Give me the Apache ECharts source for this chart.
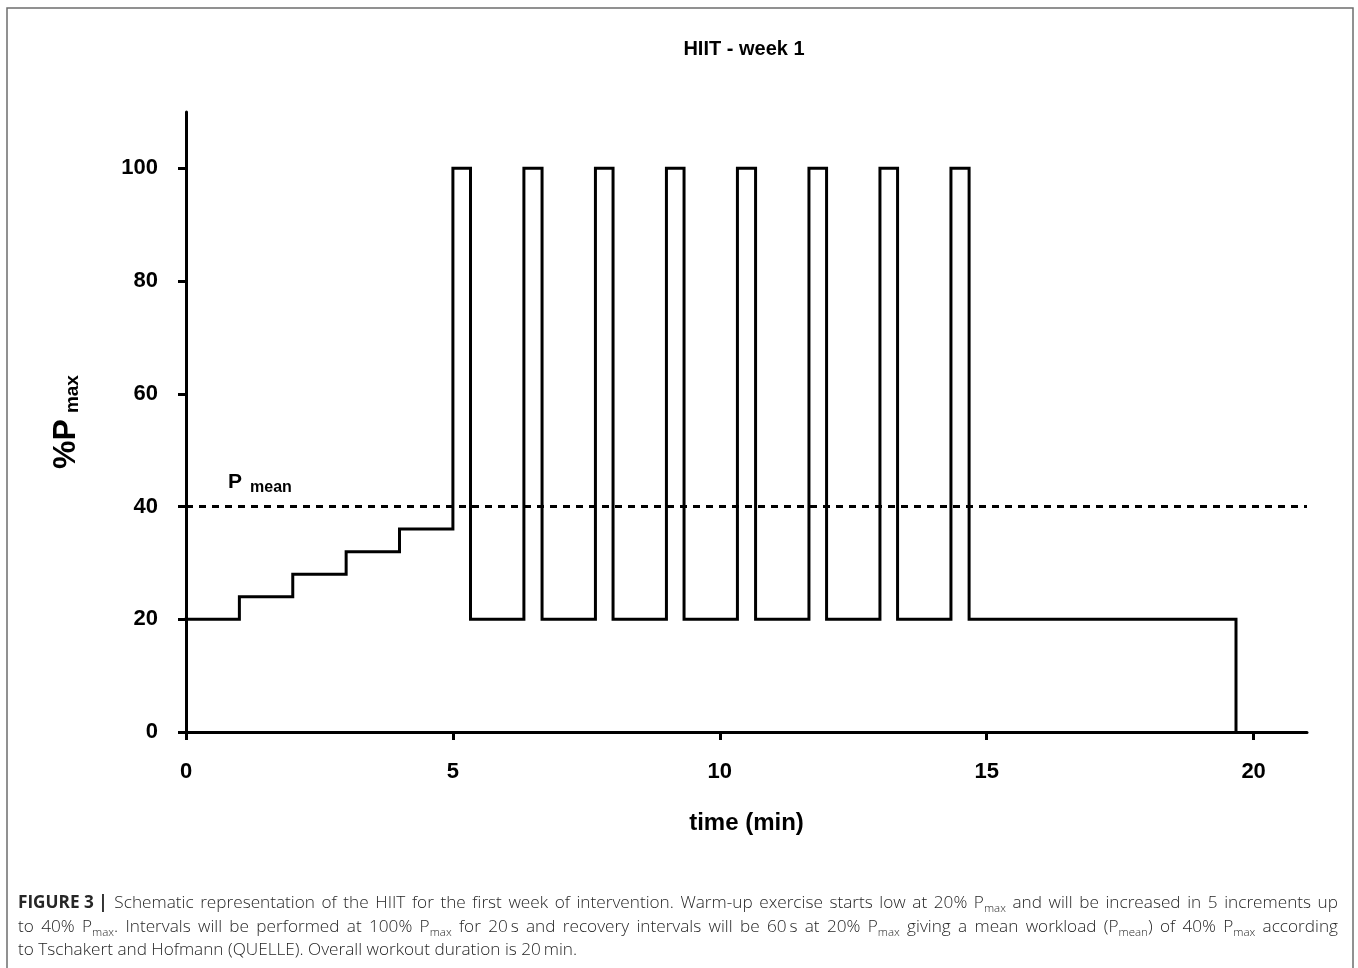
<!DOCTYPE html>
<html><head><meta charset="utf-8">
<script src="https://cdn.jsdelivr.net/npm/echarts@6.0.0/dist/echarts.min.js"></script>
<style>html,body{margin:0;padding:0;background:#fff}#chart{width:1358px;height:968px}</style>
</head><body><div id="chart"></div>
<script>
// ---- data ----
const titleText = 'HIIT - week 1';
const xAxisName = 'time (min)';
const stepTimes  = [0, 1, 2, 3, 4, 5, 5.33, 6.33, 6.67, 7.67, 8, 9, 9.33, 10.33, 10.67, 11.67, 12, 13, 13.33, 14.33, 14.67, 19.67];
const stepLevels = [20, 24, 28, 32, 36, 100, 20, 100, 20, 100, 20, 100, 20, 100, 20, 100, 20, 100, 20, 100, 20, 0];
const meanLevel = 40;
const xTicks = [0, 5, 10, 15, 20];
const yTicks = [0, 20, 40, 60, 80, 100];
const captionLine1 = [['b', 'FIGURE 3 |'], ['n', ' Schematic representation of the HIIT for the first week of intervention. Warm-up exercise starts low at 20% P'], ['s', 'max'], ['n', ' and will be increased in 5 increments up']];
const captionLine2 = [['n', 'to 40% P'], ['s', 'max'], ['n', '. Intervals will be performed at 100% P'], ['s', 'max'], ['n', ' for 20\u2009s and recovery intervals will be 60\u2009s at 20% P'], ['s', 'max'], ['n', ' giving a mean workload (P'], ['s', 'mean'], ['n', ') of 40% P'], ['s', 'max'], ['n', ' according']];
const captionLine3 = [['n', 'to Tschakert and Hofmann (QUELLE). Overall workout duration is 20\u2009min.']];

// ---- styles ----
const FF = '"Liberation Sans", Arial, Helvetica, sans-serif';
const CF = '"Open Sans", "Liberation Sans", Arial, sans-serif';
const CAP_SIZE = 17.2, SUB_SIZE = 11.5;
const capColor = '#262626';
const fonts = {
  n: '300 ' + CAP_SIZE + 'px ' + CF,
  b: 'bold ' + CAP_SIZE + 'px ' + CF,
  s: '300 ' + SUB_SIZE + 'px ' + CF
};
const mctx = document.createElement('canvas').getContext('2d');
function mw(t, f) { mctx.font = f; return mctx.measureText(t).width; }

function buildCaption(segs, targetW, spName) {
  let natural = 0, nSpaces = 0;
  segs.forEach(([s, t]) => {
    natural += mw(t, fonts[s]);
    if (s === 'n') nSpaces += (t.match(/ /g) || []).length;
  });
  const spaceW = mw(' ', fonts.n);
  const extra = targetW && nSpaces ? (targetW - natural) / nSpaces : 0;
  const parts = [];
  segs.forEach(([s, t]) => {
    if (s !== 'n') { parts.push('{' + s + '|' + t + '}'); return; }
    t.split(' ').forEach((p, i) => {
      if (i > 0) parts.push('{' + spName + '| }');
      if (p) parts.push('{n|' + p + '}');
    });
  });
  return { text: parts.join(''), spW: spaceW + extra };
}
const c1 = buildCaption(captionLine1, 1320, 'sp1');
const c2 = buildCaption(captionLine2, 1320, 'sp2');
const c3 = buildCaption(captionLine3, 0, 'sp3');
const LH = 22;
const capRich = {
  n: { fontSize: CAP_SIZE, fontFamily: CF, fontWeight: 300, color: capColor, lineHeight: LH },
  b: { fontSize: CAP_SIZE, fontFamily: CF, fontWeight: 'bold', color: capColor, lineHeight: LH },
  s: { fontSize: SUB_SIZE, fontFamily: CF, fontWeight: 300, color: capColor, verticalAlign: 'bottom' },
  sp1: { fontSize: CAP_SIZE, fontFamily: CF, fontWeight: 300, width: c1.spW, lineHeight: LH },
  sp2: { fontSize: CAP_SIZE, fontFamily: CF, fontWeight: 300, width: c2.spW, lineHeight: LH },
  sp3: { fontSize: CAP_SIZE, fontFamily: CF, fontWeight: 300, width: c3.spW, lineHeight: LH }
};
function capText(c, top) {
  return { type: 'text', left: 18, top: top, silent: true,
    style: { text: c.text, rich: capRich, fill: capColor, font: fonts.n } };
}

const chart = echarts.init(document.getElementById('chart'), null, { renderer: 'canvas' });
const axisCommon = {
  type: 'value',
  axisLine: { show: true, lineStyle: { color: '#000', width: 3 } },
  splitLine: { show: false },
};
chart.setOption({
  backgroundColor: '#fff',
  animation: false,
  title: {
    text: titleText, left: 739, top: 34, textAlign: 'center',
    textStyle: { fontFamily: FF, fontWeight: 'bold', fontSize: 20, color: '#000' }
  },
  grid: { left: 186, right: 51, top: 112, bottom: 236, containLabel: false },
  xAxis: Object.assign({}, axisCommon, {
    min: 0, max: 21, interval: 5,
    name: xAxisName, nameLocation: 'middle', nameGap: 79,
    nameTextStyle: { fontFamily: FF, fontWeight: 'bold', fontSize: 24, color: '#000' },
    axisTick: { show: true, length: 8, customValues: xTicks, lineStyle: { color: '#000', width: 3 } },
    axisLabel: { customValues: xTicks, margin: 29, fontFamily: FF, fontWeight: 'bold', fontSize: 22, color: '#000' }
  }),
  yAxis: Object.assign({}, axisCommon, {
    min: 0, max: 110, interval: 20,
    name: '{p|%P}{m|max}', nameLocation: 'middle', nameGap: 104, nameRotate: 90,
    nameTextStyle: {
      rich: {
        p: { fontFamily: FF, fontWeight: 'bold', fontSize: 32, color: '#000', verticalAlign: 'bottom' },
        m: { fontFamily: FF, fontWeight: 'bold', fontSize: 19, color: '#000', verticalAlign: 'bottom', padding: [0, 0, 0, 6] }
      }
    },
    axisTick: { show: true, length: 8, customValues: yTicks, lineStyle: { color: '#000', width: 3 } },
    axisLabel: { customValues: yTicks, margin: 28, fontFamily: FF, fontWeight: 'bold', fontSize: 22, color: '#000' }
  }),
  series: [{
    type: 'line',
    step: 'end',
    data: stepTimes.map((t, i) => [t, stepLevels[i]]),
    showSymbol: false,
    lineStyle: { color: '#000', width: 3, cap: 'square', join: 'miter' },
    z: 3,
    markLine: {
      silent: true,
      symbol: 'none',
      lineStyle: { color: '#000', width: 3, type: [7, 6] },
      data: [{ yAxis: meanLevel }],
      label: {
        show: true, position: 'insideStartTop', distance: [42, 11],
        formatter: '{p|P}{m|mean}',
        rich: {
          p: { fontFamily: FF, fontWeight: 'bold', fontSize: 21, color: '#000', lineHeight: 26 },
          m: { fontFamily: FF, fontWeight: 'bold', fontSize: 16, color: '#000', verticalAlign: 'bottom', padding: [0, 0, 0, 8] }
        }
      }
    }
  }],
  graphic: [
    { type: 'rect', silent: true, z: -1, shape: { x: 7, y: 8, width: 1346, height: 1000 },
      style: { fill: 'none', stroke: '#6e6e6e', lineWidth: 1.5 } },
    capText(c1, 895),
    capText(c2, 919),
    capText(c3, 942)
  ]
});
</script>
</body></html>
